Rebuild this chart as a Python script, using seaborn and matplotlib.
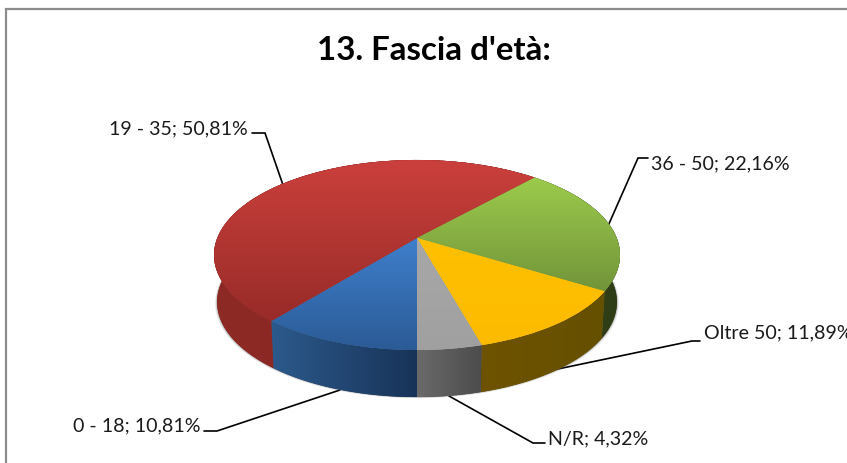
import numpy as np
import matplotlib
matplotlib.use('Agg')
import matplotlib.pyplot as plt
from matplotlib.colors import LinearSegmentedColormap
from matplotlib.patches import Polygon
from matplotlib.transforms import Transform
import seaborn as sns

categorie = ['0 - 18', '19 - 35', '36 - 50', 'Oltre 50', 'N/R']
valori = [10.81, 50.81, 22.16, 11.89, 4.32]

# chiaro / scuro per faccia superiore e per il bordo
top_a = ['#3F7FCC', '#CB403C', '#9CCB4C', '#FFC000', '#A8A8A8']
top_b = ['#2B5B96', '#982B28', '#72943A', '#FDBB00', '#A0A0A0']
side_a = ['#2C5A8C', '#8E2A26', '#38491C', '#6E5300', '#6A6A6A']
side_b = ['#183358', '#7E2320', '#2E3C16', '#655000', '#4C4C4C']

etichette_xy = [(73, 426), (109, 129), (651, 164), (704, 333), (548, 439)]
guide = [
    [(204, 431), (217, 431), (340, 390)],
    [(252, 133), (265, 133), (283, 185)],
    [(648, 158), (638, 158), (608, 226)],
    [(700, 341), (692, 341), (553, 370)],
    [(545, 443), (533, 443), (449, 396)],
]

CX, CY = 417, 238
A, B, K = 92, 199.7, 0.179
SPESSORE = 47
RIDUZIONE = 0.985


class Prospettiva(Transform):
    input_dims = 2
    output_dims = 2
    is_affine = False
    has_inverse = False

    def transform_non_affine(self, values):
        values = np.asarray(values, dtype=float)
        u, v = values[:, 0], values[:, 1]
        d = 1 + K * v
        return np.column_stack([CX + B * u / d, CY - A * v / d])


def gradiente(ax, patch, c1, c2, verticale, zorder):
    # immagine ritagliata sulla forma
    cmap = LinearSegmentedColormap.from_list('g', [c1, c2])
    verts = patch.get_transform().transform_path(patch.get_path()).vertices
    verts = ax.transData.inverted().transform(verts)
    x0, x1 = verts[:, 0].min(), verts[:, 0].max()
    y0, y1 = verts[:, 1].min(), verts[:, 1].max()
    g = np.linspace(0, 1, 256)
    g = g.reshape(-1, 1) if verticale else g.reshape(1, -1)
    im = ax.imshow(g, cmap=cmap, vmin=0, vmax=1, extent=(x0, x1, y1, y0),
                   aspect='auto', origin='upper', zorder=zorder)
    im.set_clip_path(patch)


def abbassa(punti, extra=0.0, scala=RIDUZIONE):
    p = punti + [0, SPESSORE + extra]
    p[:, 0] = CX + (p[:, 0] - CX) * scala
    return p


sns.set_theme(style='white')
plt.rcParams['font.family'] = ['Lato', 'DejaVu Sans']

fig = plt.figure(figsize=(8.47, 4.63), dpi=100)
ax = fig.add_axes([0, 0, 1, 1])
wedges, _ = ax.pie(valori, startangle=270, counterclock=False, radius=1,
                   wedgeprops={'linewidth': 0})
ax.set_aspect('auto')
ax.set_xlim(0, 847)
ax.set_ylim(463, 0)
ax.axis('off')

persp = Prospettiva()
for i, w in enumerate(wedges):
    w.set_transform(persp + ax.transData)
    w.set_zorder(5)
    w.set_facecolor(top_b[i])
    gradiente(ax, w, top_a[i], top_b[i], True, 6)

    # bordo laterale dello spicchio
    t = np.radians(np.linspace(w.theta1, w.theta2, 120))
    arco = persp.transform(np.column_stack([np.cos(t), np.sin(t)]))
    basso = abbassa(arco)
    lato = Polygon(np.vstack([arco, basso[::-1]]), closed=True, linewidth=0,
                   facecolor=side_b[i], zorder=3, transform=ax.transData)
    ax.add_patch(lato)
    gradiente(ax, lato, side_a[i], side_b[i], False, 4)

    testo = f'{categorie[i]}; {valori[i]:.2f}%'.replace('.', ',')
    ax.text(etichette_xy[i][0], etichette_xy[i][1], testo, fontsize=14.1,
            color='#1a1a1a', ha='left', va='center', zorder=8)
    xs, ys = zip(*guide[i])
    ax.plot(xs, ys, color='black', lw=1.2, zorder=1, solid_joinstyle='miter')

# ombra sfumata sotto la torta
ang = np.linspace(0, 2 * np.pi, 240)
cerchio = persp.transform(np.column_stack([np.cos(ang), np.sin(ang)]))
for d, al in [(2.0, 0.10), (1.2, 0.16), (0.6, 0.22)]:
    ombra = abbassa(cerchio, extra=d * 0.6, scala=RIDUZIONE + d / 200)
    ax.add_patch(Polygon(ombra, closed=True, linewidth=0, facecolor='#555555',
                         alpha=al, zorder=2))

# cornice del grafico (solo sinistra e alto)
ax.plot([6, 6, 847], [463, 8.5, 8.5], color='#8C8C8C', lw=1.6, zorder=9,
        solid_joinstyle='miter')

ax.text(434, 50, "13. Fascia d'età:", fontsize=23.8, fontweight='bold',
        color='black', ha='center', va='center')

ax.set_xlim(0, 847)
ax.set_ylim(463, 0)
fig.savefig('out.png', dpi=100, facecolor='white')
